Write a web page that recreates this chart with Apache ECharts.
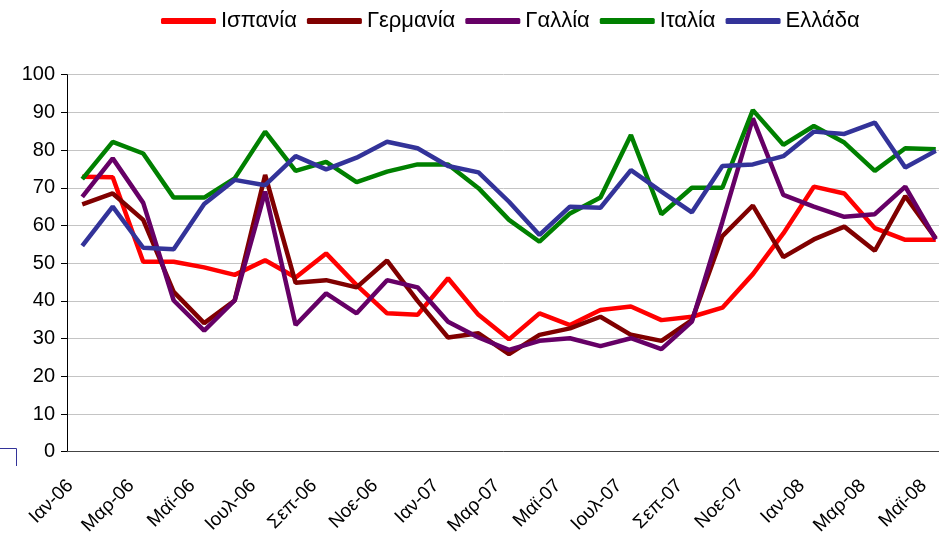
<!DOCTYPE html>
<html>
<head>
<meta charset="utf-8">
<script src="https://cdn.jsdelivr.net/npm/echarts@6/dist/echarts.min.js"></script>
<style>
  html, body { margin: 0; padding: 0; background: #fff; }
  #chart { width: 939px; height: 535px; }
</style>
</head>
<body>
<div id="chart"></div>
<script>
// μήνες Ιαν-06 ... Μαϊ-08
const months = [
  "Ιαν-06", "Φεβ-06", "Μαρ-06", "Απρ-06", "Μαϊ-06", "Ιουν-06", "Ιουλ-06", "Αυγ-06", "Σεπ-06", "Οκτ-06", "Νοε-06", "Δεκ-06",
  "Ιαν-07", "Φεβ-07", "Μαρ-07", "Απρ-07", "Μαϊ-07", "Ιουν-07", "Ιουλ-07", "Αυγ-07", "Σεπ-07", "Οκτ-07", "Νοε-07", "Δεκ-07",
  "Ιαν-08", "Φεβ-08", "Μαρ-08", "Απρ-08", "Μαϊ-08"
];

const spain   = [72.9, 72.8, 50.4, 50.4, 48.9, 46.9, 50.8, 46.2, 52.6, 44.2, 36.7, 36.3, 46.0, 36.3, 29.8, 36.7, 33.6, 37.6, 38.5, 34.9, 35.8, 38.2, 47.1, 57.9, 70.3, 68.5, 59.3, 56.2, 56.2];
const germany = [65.6, 68.5, 61.5, 42.4, 34.1, 40.1, 73.4, 44.8, 45.5, 43.6, 50.7, 40.0, 30.3, 31.4, 25.9, 31.0, 32.7, 35.8, 31.0, 29.4, 34.9, 57.2, 65.3, 51.6, 56.3, 59.7, 53.3, 67.8, 56.6];
const france  = [67.6, 77.8, 66.0, 40.1, 32.1, 40.1, 69.0, 33.6, 42.0, 36.7, 45.5, 43.6, 34.5, 30.3, 27.0, 29.4, 30.1, 28.0, 30.1, 27.2, 34.5, 61.0, 88.4, 68.1, 65.0, 62.3, 63.0, 70.3, 56.3];
const italy   = [72.3, 82.2, 79.1, 67.4, 67.4, 72.5, 84.9, 74.5, 76.9, 71.5, 74.3, 76.2, 76.2, 69.9, 61.5, 55.7, 63.2, 67.4, 84.0, 63.0, 70.0, 70.0, 90.6, 81.4, 86.4, 82.0, 74.5, 80.5, 80.2];
const greece  = [54.6, 65.0, 54.1, 53.7, 65.7, 72.1, 70.7, 78.4, 74.9, 78.0, 82.2, 80.5, 75.8, 74.1, 66.3, 57.5, 65.0, 64.7, 74.7, 69.0, 63.5, 75.8, 76.2, 78.4, 84.9, 84.3, 87.3, 75.4, 79.8];

const names  = ["Ισπανία", "Γερμανία", "Γαλλία", "Ιταλία", "Ελλάδα"];
const colors = ["#ff0000", "#800000", "#660066", "#008000", "#333399"];
const values = [spain, germany, france, italy, greece];

const chart = echarts.init(document.getElementById("chart"));

chart.setOption({
  animation: false,
  color: colors,
  textStyle: { fontFamily: "Liberation Sans, Arial, sans-serif", color: "#000" },
  legend: {
    top: 5,
    left: 156,
    itemGap: 10,
    itemWidth: 55,
    itemHeight: 6,
    icon: "roundRect",
    textStyle: { fontSize: 22, color: "#000" },
    data: names
  },
  grid: {
    left: 67,
    top: 74.7,
    width: 884,
    height: 377,
    outerBoundsMode: "none"
  },
  xAxis: {
    type: "category",
    data: months,
    boundaryGap: true,
    axisLine: { lineStyle: { color: "#444", width: 1 } },
    axisTick: { interval: 1, length: 5, lineStyle: { color: "#000" } },
    axisLabel: {
      interval: 1,
      rotate: 45,
      fontSize: 19,
      color: "#000",
      margin: 19,
      padding: [0, 17, 0, 0]
    },
    splitLine: { show: false }
  },
  yAxis: {
    type: "value",
    min: 0,
    max: 100,
    interval: 10,
    axisLine: { show: true, lineStyle: { color: "#000", width: 1 } },
    axisTick: { show: true, length: 6, lineStyle: { color: "#000" } },
    axisLabel: { fontSize: 20, color: "#000", margin: 12 },
    splitLine: { lineStyle: { color: "#c4c4c4", width: 1 } }
  },
  series: names.map((n, i) => ({
    name: n,
    type: "line",
    data: values[i],
    symbol: "none",
    lineStyle: { width: 4.5, color: colors[i] },
    itemStyle: { color: colors[i] }
  })),
  graphic: [
    {
      type: "polyline",
      shape: { points: [[0, 448.5], [16.5, 448.5], [16.5, 466]] },
      style: { stroke: "#333399", lineWidth: 1, fill: null }
    }
  ]
});
</script>
</body>
</html>
